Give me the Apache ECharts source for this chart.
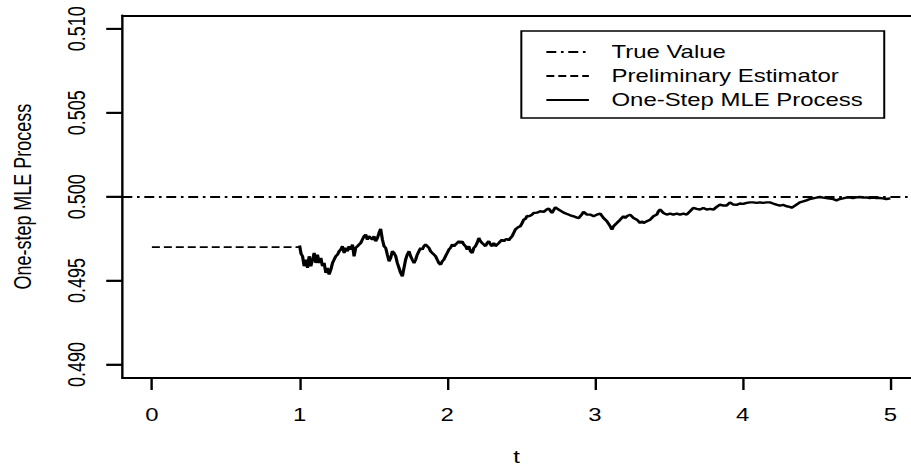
<!DOCTYPE html>
<html>
<head>
<meta charset="utf-8">
<script src="https://cdn.jsdelivr.net/npm/echarts@6/dist/echarts.min.js"></script>
<style>
  html, body { margin: 0; padding: 0; background: #fff; overflow: hidden; }
  #wrap { width: 911px; height: 471px; overflow: hidden; }
  /* the plot is laid out on a narrower canvas and widened horizontally */
  #chart { width: 685px; height: 471px; transform-origin: 0 0; }
</style>
</head>
<body>
<div id="wrap"><div id="chart"></div></div>
<script>
// Tick positions
const xTicks = [0, 1, 2, 3, 4, 5];
const yTicks = [0.490, 0.495, 0.500, 0.505, 0.510];

// Reference levels
const trueValue = 0.5;
const prelimT = [0, 1];
const prelimValue = 0.497;

// One-step MLE process path
const mleT = [
  1.000, 1.010, 1.020, 1.031, 1.043, 1.054, 1.065, 1.076, 1.088, 1.099,
  1.110, 1.121, 1.133, 1.144, 1.155, 1.166, 1.178, 1.189, 1.200, 1.212,
  1.223, 1.234, 1.245, 1.257, 1.268, 1.279, 1.290, 1.302, 1.313, 1.324,
  1.335, 1.347, 1.358, 1.369, 1.380, 1.392, 1.403, 1.414, 1.425, 1.437,
  1.448, 1.459, 1.470, 1.482, 1.493, 1.504, 1.515, 1.527, 1.538, 1.549,
  1.561, 1.572, 1.583, 1.594, 1.606, 1.617, 1.628, 1.639, 1.651, 1.662,
  1.673, 1.684, 1.696, 1.707, 1.718, 1.729, 1.741, 1.752, 1.763, 1.775,
  1.786, 1.797, 1.808, 1.820, 1.831, 1.842, 1.853, 1.865, 1.876, 1.887,
  1.898, 1.910, 1.921, 1.932, 1.943, 1.955, 1.966, 1.977, 1.988, 2.000,
  2.011, 2.022, 2.034, 2.045, 2.056, 2.067, 2.079, 2.090, 2.101, 2.112,
  2.124, 2.135, 2.146, 2.157, 2.169, 2.180, 2.191, 2.202, 2.214, 2.225,
  2.236, 2.248, 2.259, 2.270, 2.281, 2.293, 2.304, 2.315, 2.326, 2.338,
  2.349, 2.360, 2.371, 2.383, 2.394, 2.405, 2.416, 2.428, 2.439, 2.450,
  2.461, 2.473, 2.484, 2.495, 2.507, 2.518, 2.529, 2.540, 2.552, 2.563,
  2.574, 2.585, 2.608, 2.630, 2.653, 2.675, 2.687, 2.709, 2.732, 2.750,
  2.766, 2.788, 2.811, 2.833, 2.856, 2.878, 2.890, 2.910, 2.923, 2.946,
  2.968, 2.991, 3.013, 3.036, 3.058, 3.081, 3.103, 3.115, 3.126, 3.148,
  3.171, 3.193, 3.205, 3.216, 3.238, 3.261, 3.284, 3.306, 3.317, 3.329,
  3.351, 3.374, 3.396, 3.419, 3.430, 3.441, 3.464, 3.486, 3.509, 3.531,
  3.554, 3.576, 3.599, 3.621, 3.644, 3.666, 3.689, 3.711, 3.734, 3.757,
  3.779, 3.802, 3.824, 3.847, 3.869, 3.892, 3.914, 3.937, 3.959, 3.982,
  4.004, 4.027, 4.049, 4.072, 4.094, 4.117, 4.139, 4.162, 4.184, 4.207,
  4.229, 4.252, 4.274, 4.297, 4.320, 4.331, 4.342, 4.365, 4.387, 4.410,
  4.432, 4.455, 4.477, 4.500, 4.522, 4.545, 4.567, 4.590, 4.612, 4.635,
  4.657, 4.680, 4.702, 4.725, 4.747, 4.770, 4.793, 4.815, 4.838, 4.860,
  4.883, 4.905, 4.928, 4.950, 4.973, 5.000
];
const mleValue = [
  0.49709, 0.49660, 0.49645, 0.49586, 0.49625, 0.49576, 0.49645, 0.49586, 0.49625, 0.49665,
  0.49605, 0.49655, 0.49605, 0.49635, 0.49586, 0.49605, 0.49546, 0.49576, 0.49536, 0.49566,
  0.49605, 0.49625, 0.49645, 0.49655, 0.49675, 0.49685, 0.49705, 0.49665, 0.49695, 0.49675,
  0.49705, 0.49685, 0.49715, 0.49645, 0.49695, 0.49705, 0.49715, 0.49724, 0.49744, 0.49764,
  0.49774, 0.49744, 0.49764, 0.49754, 0.49744, 0.49764, 0.49734, 0.49754, 0.49784, 0.49808,
  0.49744, 0.49705, 0.49695, 0.49655, 0.49615, 0.49635, 0.49675, 0.49665, 0.49645, 0.49605,
  0.49576, 0.49546, 0.49526, 0.49576, 0.49625, 0.49655, 0.49675, 0.49645, 0.49625, 0.49605,
  0.49625, 0.49655, 0.49675, 0.49695, 0.49685, 0.49705, 0.49715, 0.49705, 0.49695, 0.49675,
  0.49665, 0.49655, 0.49645, 0.49625, 0.49605, 0.49595, 0.49615, 0.49625, 0.49645, 0.49665,
  0.49685, 0.49695, 0.49715, 0.49705, 0.49715, 0.49724, 0.49734, 0.49724, 0.49734, 0.49715,
  0.49705, 0.49685, 0.49705, 0.49675, 0.49665, 0.49695, 0.49705, 0.49724, 0.49754, 0.49734,
  0.49724, 0.49715, 0.49705, 0.49724, 0.49734, 0.49715, 0.49705, 0.49724, 0.49705, 0.49715,
  0.49724, 0.49734, 0.49744, 0.49734, 0.49744, 0.49748, 0.49740, 0.49754, 0.49764, 0.49784,
  0.49804, 0.49814, 0.49820, 0.49824, 0.49843, 0.49863, 0.49867, 0.49885, 0.49883, 0.49887,
  0.49893, 0.49903, 0.49905, 0.49913, 0.49909, 0.49925, 0.49929, 0.49903, 0.49937, 0.49925,
  0.49917, 0.49905, 0.49897, 0.49889, 0.49883, 0.49875, 0.49873, 0.49893, 0.49909, 0.49893,
  0.49893, 0.49883, 0.49893, 0.49899, 0.49873, 0.49853, 0.49824, 0.49804, 0.49824, 0.49843,
  0.49863, 0.49883, 0.49873, 0.49883, 0.49893, 0.49873, 0.49863, 0.49843, 0.49853, 0.49843,
  0.49853, 0.49863, 0.49883, 0.49893, 0.49913, 0.49923, 0.49903, 0.49893, 0.49899, 0.49893,
  0.49899, 0.49893, 0.49899, 0.49893, 0.49913, 0.49933, 0.49927, 0.49923, 0.49933, 0.49923,
  0.49927, 0.49923, 0.49939, 0.49953, 0.49947, 0.49947, 0.49966, 0.49953, 0.49951, 0.49959,
  0.49957, 0.49963, 0.49966, 0.49966, 0.49963, 0.49966, 0.49963, 0.49966, 0.49966, 0.49959,
  0.49953, 0.49947, 0.49951, 0.49943, 0.49939, 0.49933, 0.49939, 0.49953, 0.49966, 0.49972,
  0.49978, 0.49986, 0.49990, 0.49994, 0.49998, 0.49994, 0.49992, 0.49988, 0.49986, 0.49978,
  0.49986, 0.49990, 0.49994, 0.49994, 0.49992, 0.49996, 0.49998, 0.49994, 0.49996, 0.49992,
  0.49994, 0.49992, 0.49992, 0.49990, 0.49986, 0.49990
];

const chartEl = document.getElementById('chart');
chartEl.style.transform = 'scaleX(' + (911 / 685) + ')';

const FONT = '"Liberation Sans", Arial, Helvetica, sans-serif';
const dashDot = [7.5, 3.5, 2, 3.5];
const dashed = [6, 3];
const hidden = 'rgba(0,0,0,0)';
const frame = { color: '#000', width: 1.8 };
const labelFont = { fontFamily: FONT, fontSize: 18, color: '#000' };
const X_MIN = -0.2, X_MAX = 5.14;   // the frame runs past the right edge of the page
const TICK_LEN = 12;

const chart = echarts.init(chartEl, null, { renderer: 'svg' });
chart.setOption({
  animation: false,
  backgroundColor: '#fff',
  textStyle: { fontFamily: FONT, color: '#000' },
  grid: { left: 91.7, top: 15.3, bottom: 91, right: 0, show: false },
  legend: {
    orient: 'vertical',
    left: 392, top: 31,
    padding: [12, 16, 9, 17.8],
    itemWidth: 32, itemHeight: 18, itemGap: 6,
    borderColor: '#000', borderWidth: 1.5, borderRadius: 0,
    backgroundColor: '#fff',
    itemStyle: { color: hidden, borderColor: hidden, borderWidth: 0, opacity: 0 },
    textStyle: Object.assign({ padding: [0, 0, 0, 12] }, labelFont),
    data: ['True Value', 'Preliminary Estimator', 'One-Step MLE Process']
  },
  xAxis: [
    {
      type: 'value', min: X_MIN, max: X_MAX, position: 'bottom',
      name: 't', nameLocation: 'middle', nameGap: 70,
      nameTextStyle: labelFont,
      axisLine: { show: true, onZero: false, lineStyle: frame },
      splitLine: { show: false },
      axisTick: { show: true, inside: false, length: TICK_LEN, customValues: xTicks, lineStyle: frame },
      axisLabel: Object.assign({ customValues: xTicks, margin: 28 }, labelFont)
    },
    {
      // top edge of the frame
      type: 'value', min: X_MIN, max: X_MAX, position: 'top',
      axisLine: { show: true, onZero: false, lineStyle: frame },
      axisTick: { show: false }, axisLabel: { show: false }, splitLine: { show: false }
    }
  ],
  yAxis: {
    type: 'value', min: 0.4892, max: 0.5108, position: 'left',
    name: 'One-step MLE Process', nameLocation: 'middle', nameGap: 66, nameRotate: 90,
    nameTextStyle: labelFont,
    axisLine: { show: true, onZero: false, lineStyle: frame },
    splitLine: { show: false },
    axisTick: { show: true, inside: false, length: TICK_LEN, customValues: yTicks, lineStyle: frame },
    axisLabel: {
      customValues: yTicks, rotate: 90, margin: 0,
      // value text, a spacer, then the outward tick bar next to the axis
      formatter: v => '{num|' + v.toFixed(3) + '}\n{gap| }\n{tick| }',
      rich: {
        num: { fontFamily: FONT, fontSize: 18, lineHeight: 18, color: '#000' },
        gap: { fontSize: 2, lineHeight: 13.6 },
        tick: { fontSize: 2, width: 1.8, height: TICK_LEN, lineHeight: TICK_LEN, backgroundColor: '#000' }
      }
    }
  },
  series: [
    {
      name: 'True Value', type: 'line', data: [], symbol: 'none',
      itemStyle: { color: '#000' },
      lineStyle: { color: '#000', width: 1.8, type: dashDot },
      markLine: {
        silent: true, symbol: ['none', 'none'], label: { show: false },
        lineStyle: { color: '#000', width: 1.8, type: dashDot },
        data: [{ yAxis: trueValue }]
      }
    },
    {
      name: 'Preliminary Estimator', type: 'line', symbol: 'none',
      itemStyle: { color: '#000' },
      data: prelimT.map(t => [t, prelimValue]),
      lineStyle: { color: '#000', width: 1.8, type: dashed }
    },
    {
      name: 'One-Step MLE Process', type: 'line', symbol: 'none',
      itemStyle: { color: '#000' },
      data: mleT.map((t, i) => [t, mleValue[i]]),
      lineStyle: { color: '#000', width: 2.4, type: 'solid' }
    }
  ]
});
</script>
</body>
</html>
